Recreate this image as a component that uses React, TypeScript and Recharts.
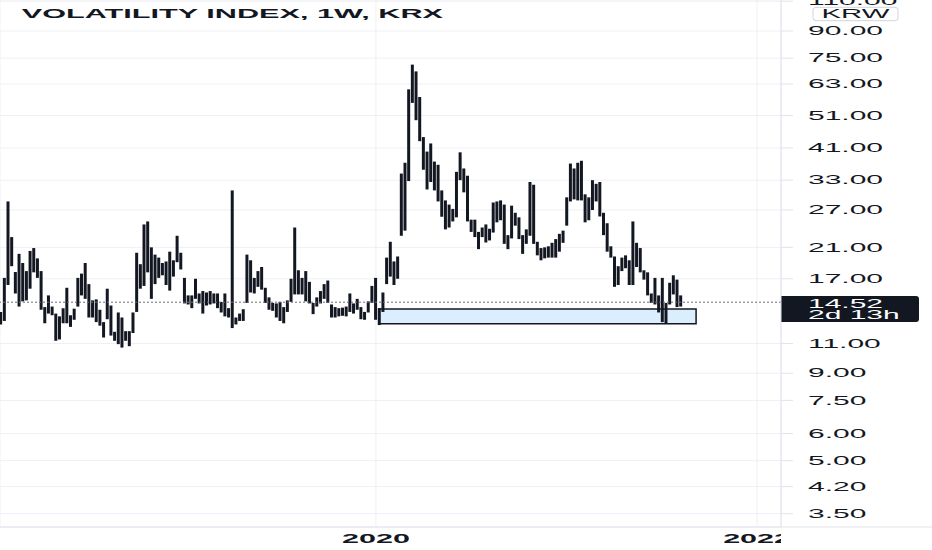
import React from "react";
import {
  ComposedChart,
  Bar,
  XAxis,
  YAxis,
  CartesianGrid,
  ReferenceLine,
  ReferenceArea,
} from "recharts";

if (typeof document !== "undefined") {
  document.body.style.margin = "0";
  document.body.style.overflow = "hidden";
}

// ---------- data (weekly bars, low / high) ----------
const TITLE = "VOLATILITY INDEX, 1W, KRX";

const lows = [
  12.5, 12.8, 16.3, 18.5, 15.4, 14.1, 14.6, 14.7, 15.9, 17.75,
  17.1, 13.8, 12.6, 13.45, 13.3, 11.2, 11.3, 12.6, 12.6, 12.3,
  12.9, 14.1, 15.2, 14.85, 13.1, 13.1, 12.7, 12.4, 11.45, 12.95,
  11.6, 11.2, 10.95, 10.7, 11.2, 10.8, 11.8, 13.6, 15.9, 16.2,
  17.75, 14.85, 16.4, 17.1, 17.4, 16.3, 15.7, 17.25, 19.0, 18.1,
  14.4, 14.3, 13.95, 14.85, 14.4, 13.45, 14.2, 14.3, 14.4, 13.95,
  13.55, 13.2, 13.1, 12.2, 12.5, 12.8, 12.8, 14.45, 15.5, 15.4,
  16.1, 15.8, 14.45, 13.8, 13.7, 13.1, 12.8, 12.6, 13.6, 14.55,
  15.3, 15.3, 15.3, 14.6, 14.4, 13.4, 14.1, 14.4, 14.85, 14.45,
  13.1, 13.1, 13.2, 13.25, 13.2, 13.6, 13.45, 13.8, 12.95, 12.9,
  13.55, 14.45, 12.9, 12.45, 13.6, 16.4, 17.25, 16.3, 17.0, 22.7,
  23.5, 32.8, 55.5, 49.4, 42.9, 35.4, 31.0, 32.6, 30.8, 28.6,
  25.8, 23.7, 24.0, 25.0, 25.7, 33.0, 30.4, 25.0, 23.3, 22.5,
  20.75, 22.5, 21.7, 22.0, 23.2, 24.85, 25.2, 21.5, 20.75, 22.3,
  24.3, 22.2, 20.1, 21.5, 22.7, 21.5, 19.9, 19.25, 19.5, 19.6,
  19.6, 19.6, 20.4, 21.65, 24.3, 28.6, 29.0, 28.8, 28.8, 24.85,
  25.2, 27.0, 28.6, 25.85, 22.8, 20.4, 19.6, 16.1, 16.3, 17.9,
  18.25, 16.3, 16.3, 18.4, 17.75, 16.9, 15.2, 14.45, 14.3, 13.55,
  12.7, 12.6, 14.3, 15.3, 14.05, 14.1,
];

const highs = [
  13.6, 17.1, 28.6, 22.5, 17.8, 20.1, 18.9, 17.9, 20.5, 20.9,
  19.5, 17.9, 14.05, 15.2, 14.1, 13.45, 13.2, 13.95, 16.0, 13.3,
  13.9, 17.1, 17.6, 18.9, 16.4, 14.7, 14.8, 13.8, 12.7, 15.9,
  14.2, 11.9, 13.55, 13.1, 11.95, 11.95, 13.55, 20.25, 18.75, 24.5,
  25.0, 21.0, 20.0, 19.6, 18.9, 19.1, 20.4, 19.25, 22.7, 20.25,
  17.1, 15.2, 15.2, 17.0, 15.4, 15.65, 15.5, 15.65, 15.4, 15.4,
  14.55, 15.4, 13.95, 30.8, 13.1, 13.45, 13.85, 20.0, 19.25, 17.1,
  17.9, 18.4, 16.0, 15.0, 14.45, 14.4, 14.55, 14.05, 14.7, 17.0,
  24.0, 18.0, 17.1, 17.9, 16.65, 14.45, 15.0, 15.65, 16.4, 16.8,
  14.3, 14.05, 13.95, 14.0, 14.1, 15.4, 14.4, 14.85, 14.05, 13.6,
  14.6, 16.2, 17.1, 13.95, 15.5, 19.6, 21.8, 19.1, 19.75, 34.5,
  37.1, 60.8, 71.8, 68.6, 57.75, 44.1, 40.0, 42.25, 37.4, 36.6,
  30.8, 28.8, 28.0, 27.2, 34.9, 39.8, 35.7, 34.0, 25.3, 25.3,
  23.3, 24.0, 24.5, 23.8, 28.4, 28.6, 28.8, 28.0, 22.8, 27.8,
  26.5, 25.7, 22.8, 23.7, 32.6, 32.0, 21.8, 20.9, 21.0, 21.15,
  21.65, 22.2, 23.0, 23.5, 29.4, 36.9, 35.7, 37.1, 37.6, 30.0,
  29.4, 33.0, 32.2, 32.6, 26.5, 24.7, 21.15, 19.75, 18.5, 19.6,
  19.9, 19.25, 25.0, 21.65, 20.9, 18.0, 17.75, 15.4, 17.1, 15.2,
  17.1, 14.45, 16.55, 17.4, 16.9, 15.2,
];

const yearTicks = [103, 206.7];
const yearLabels = ["2020", "2022"];
const priceTicks = [110, 90, 75, 63, 51, 41, 33, 27, 21, 17, 11, 9, 7.5, 6, 5, 4.2, 3.5];
const lastPrice = 14.52;
const countdown = "2d 13h";
const currency = "KRW";
const zoneX = [103.8, 190.1];
const zoneY = [12.55, 13.88];
const xDomain = [0.73, 213.2];
const yDomain = [3.2, 110.9];

const chartData = lows.map((lo, i) => ({ week: i + 1, range: [lo, highs[i]] }));

// ---------- styles ----------
const W = 932;
const H = 550;
const AXIS_W = 151;
const AXIS_H = 23;
const PLOT_R = W - AXIS_W;
const FONT = '"Liberation Sans", Arial, Helvetica, sans-serif';
const INK = "#131722";
const GRID = "#eef0f4";
const AXIS_LINE = "#e0e3eb";

const PriceTick = (props: any) => {
  const { x, y, payload } = props;
  return (
    <text
      transform={`translate(${x},${y}) scale(2.5,1)`}
      fontSize={12}
      fontFamily={FONT}
      fill={INK}
      dominantBaseline="central"
      textAnchor="start"
    >
      {Number(payload.value).toFixed(2)}
    </text>
  );
};

const YearTick = (props: any) => {
  const { x, y, payload, index } = props;
  const idx = yearTicks.indexOf(payload.value);
  const label = idx >= 0 ? yearLabels[idx] : String(payload.value);
  const id = `yr-clip-${index}`;
  return (
    <g>
      <defs>
        <clipPath id={id}>
          <rect x={0} y={0} width={PLOT_R} height={H} />
        </clipPath>
      </defs>
      <g clipPath={`url(#${id})`}>
        <text
          transform={`translate(${x},${y}) scale(2.35,1)`}
          fontSize={13}
          fontWeight={700}
          fontFamily={FONT}
          fill={INK}
          textAnchor="middle"
          dominantBaseline="central"
        >
          {label}
        </text>
      </g>
    </g>
  );
};

const PriceBadge = (props: any) => {
  const vb = props.viewBox || {};
  const x = (vb.x ?? 0) + (vb.width ?? 0);
  const y = vb.y ?? 0;
  return (
    <g>
      <path
        d={`M${x},${y - 6.3} H${x + 135} a3,3 0 0 1 3,3 V${y + 16.7} a3,3 0 0 1 -3,3 H${x} Z`}
        fill={INK}
      />
      <text
        transform={`translate(${x + 27},${y + 1.2}) scale(2.5,1)`}
        fontSize={12}
        fontFamily={FONT}
        fill="#ffffff"
        dominantBaseline="central"
      >
        {lastPrice.toFixed(2)}
      </text>
      <text
        transform={`translate(${x + 27},${y + 13}) scale(2.5,1)`}
        fontSize={12}
        fontFamily={FONT}
        fill="#ffffff"
        dominantBaseline="central"
      >
        {countdown}
      </text>
    </g>
  );
};

const ScaleDecor = (props: any) => {
  const vb = props.viewBox || {};
  const x = vb.x ?? PLOT_R;
  const y = vb.y ?? 0;
  const h = vb.height ?? H - AXIS_H;
  const w = vb.width ?? AXIS_W;
  return (
    <g>
      <line x1={x} x2={x + w} y1={y + h} y2={y + h} stroke={AXIS_LINE} strokeWidth={1} />
      <rect x={x + 32} y={y + 7.3} width={85} height={13.4} rx={3} fill="#ffffff" stroke="#d1d4dc" />
      <text
        transform={`translate(${x + 74.5},${y + 14.2}) scale(2.45,1)`}
        fontSize={12}
        fontFamily={FONT}
        fill={INK}
        textAnchor="middle"
        dominantBaseline="central"
      >
        {currency}
      </text>
    </g>
  );
};

export default function App() {
  return (
    <div style={{ position: "relative", width: W, height: H, background: "#ffffff" }}>
      <ComposedChart
        width={W}
        height={H}
        data={chartData}
        margin={{ top: 0, right: 0, bottom: 0, left: 0 }}
      >
        <CartesianGrid stroke={GRID} strokeWidth={1} />
        <XAxis
          type="number"
          dataKey="week"
          domain={xDomain}
          ticks={yearTicks}
          interval={0}
          allowDataOverflow
          height={AXIS_H}
          tickSize={0}
          tickMargin={12}
          tickLine={false}
          axisLine={{ stroke: AXIS_LINE }}
          tick={<YearTick />}
        />
        <YAxis
          orientation="right"
          scale="log"
          domain={yDomain}
          ticks={priceTicks}
          interval={0}
          allowDataOverflow
          width={AXIS_W}
          tickSize={12}
          tickMargin={15}
          tickLine={{ stroke: AXIS_LINE }}
          axisLine={{ stroke: AXIS_LINE }}
          tick={<PriceTick />}
          label={<ScaleDecor />}
        />
        <ReferenceArea
          x1={zoneX[0]}
          x2={zoneX[1]}
          y1={zoneY[0]}
          y2={zoneY[1]}
          fill="#2196f3"
          fillOpacity={0.16}
          stroke={INK}
          strokeWidth={1.5}
          ifOverflow="visible"
        />
        <Bar dataKey="range" barSize={3} fill={INK} isAnimationActive={false} />
        <ReferenceLine
          y={lastPrice}
          stroke="#6a6d78"
          strokeDasharray="2 2"
          strokeWidth={1}
          label={<PriceBadge />}
        />
      </ComposedChart>
      <svg
        width={W}
        height={30}
        style={{ position: "absolute", left: 0, top: 0, pointerEvents: "none" }}
      >
        <text
          transform="translate(21.7,18.3) scale(2.36,1)"
          fontSize={13}
          fontWeight={700}
          fontFamily={FONT}
          fill={INK}
        >
          {TITLE}
        </text>
      </svg>
    </div>
  );
}
